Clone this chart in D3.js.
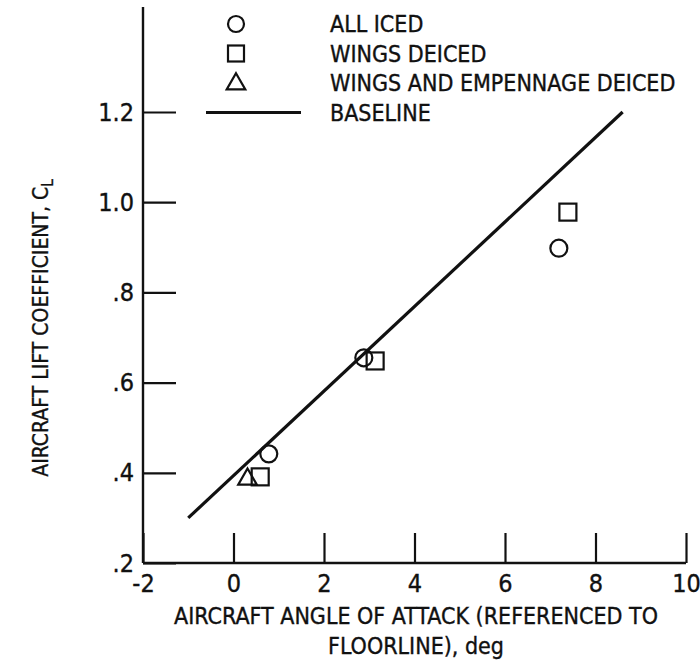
<!DOCTYPE html>
<html>
<head>
<meta charset="utf-8">
<script src="https://cdn.jsdelivr.net/npm/d3@7"></script>
<style>
  body { margin: 0; background: #fff; }
  svg text { font-family: "DejaVu Sans Condensed", "Liberation Sans Narrow", "DejaVu Sans", sans-serif; font-stretch: condensed; fill: #111; stroke: #111; stroke-width: 0.35; }
  .axis path, .axis line { stroke: #111; stroke-width: 2.2; }
  .marker { fill: none; stroke: #111; stroke-width: 2.2; }
</style>
</head>
<body>
<div id="chart"></div>
<script>
// Data (angle of attack in deg, lift coefficient)
const allIced = [[0.78, 0.442], [2.88, 0.655], [7.19, 0.898]];
const wingsDeiced = [[0.59, 0.391], [3.13, 0.648], [7.39, 0.978]];
const wingsEmpDeiced = [[0.31, 0.388]];
const baseline = [[-1.0, 0.30], [8.6, 1.20]];

const xTicks = [-2, 0, 2, 4, 6, 8, 10];
const xTickLabels = ['-2', '0', '2', '4', '6', '8', '10'];
const yTicks = [0.2, 0.4, 0.6, 0.8, 1.0, 1.2];
const yTickLabels = ['.2', '.4', '.6', '.8', '1.0', '1.2'];

const legendItems = ['ALL ICED', 'WINGS DEICED', 'WINGS AND EMPENNAGE DEICED', 'BASELINE'];

class LiftChart {
  constructor(_config) {
    this.config = {
      parentElement: _config.parentElement,
      svgWidth: _config.svgWidth || 700,
      svgHeight: _config.svgHeight || 665
    };
    this.initVis();
  }

  initVis() {
    const vis = this;

    vis.svg = d3.select(vis.config.parentElement).append('svg')
      .attr('width', vis.config.svgWidth)
      .attr('height', vis.config.svgHeight);

    // scales, pixel ranges fitted to the figure frame
    vis.xScale = d3.scaleLinear().domain([-2, 10]).range([143, 686]);
    vis.yScale = d3.scaleLinear().domain([0.2, 1.2]).range([563, 112]);

    vis.xAxis = d3.axisBottom(vis.xScale)
      .tickValues(xTicks)
      .tickFormat((d, i) => xTickLabels[i])
      .tickSizeInner(-30)
      .tickSizeOuter(0)
      .tickPadding(11);

    vis.yAxis = d3.axisLeft(vis.yScale)
      .tickValues(yTicks)
      .tickFormat((d, i) => yTickLabels[i])
      .tickSizeInner(-33)
      .tickSizeOuter(0)
      .tickPadding(9);

    vis.renderVis();
  }

  renderVis() {
    const vis = this;
    const x = vis.xScale, y = vis.yScale;

    const xAxisGroup = vis.svg.append('g')
      .attr('class', 'axis')
      .attr('transform', `translate(0, ${y(0.2)})`)
      .call(vis.xAxis);
    xAxisGroup.selectAll('.tick text').style('font-size', '25px');
    xAxisGroup.select('.domain').remove();

    const yAxisGroup = vis.svg.append('g')
      .attr('class', 'axis')
      .attr('transform', `translate(${x(-2)}, 0)`)
      .call(vis.yAxis);
    yAxisGroup.selectAll('.tick text').style('font-size', '25px');
    yAxisGroup.select('.domain').remove();

    // frame lines: y axis runs up past the last tick
    vis.svg.append('line')
      .attr('x1', x(-2)).attr('x2', x(-2))
      .attr('y1', y(0.2)).attr('y2', y(1.433))
      .attr('stroke', '#111').attr('stroke-width', 2.4);
    vis.svg.append('line')
      .attr('x1', x(-2)).attr('x2', x(10))
      .attr('y1', y(0.2)).attr('y2', y(0.2))
      .attr('stroke', '#111').attr('stroke-width', 2.4);

    // baseline
    const line = d3.line().x(d => x(d[0])).y(d => y(d[1]));
    vis.svg.append('path')
      .datum(baseline)
      .attr('d', line)
      .attr('fill', 'none')
      .attr('stroke', '#111')
      .attr('stroke-width', 3.2);

    // markers
    vis.svg.selectAll('.circ').data(allIced)
      .enter().append('circle')
      .attr('class', 'marker circ')
      .attr('cx', d => x(d[0]))
      .attr('cy', d => y(d[1]))
      .attr('r', 8.5);

    vis.svg.selectAll('.sq').data(wingsDeiced)
      .enter().append('rect')
      .attr('class', 'marker sq')
      .attr('x', d => x(d[0]) - 8.5)
      .attr('y', d => y(d[1]) - 8.5)
      .attr('width', 17)
      .attr('height', 17);

    const tri = d3.symbol().type(d3.symbolTriangle).size(150);
    vis.svg.selectAll('.tri').data(wingsEmpDeiced)
      .enter().append('path')
      .attr('class', 'marker tri')
      .attr('d', tri)
      .attr('transform', d => `translate(${x(d[0])}, ${y(d[1]) + 1})`);

    // legend
    const legend = vis.svg.append('g');
    const rowY = i => 24 + i * 29.5;
    legend.append('circle').attr('class', 'marker')
      .attr('cx', 236).attr('cy', rowY(0)).attr('r', 8);
    legend.append('rect').attr('class', 'marker')
      .attr('x', 228).attr('y', rowY(1) - 8).attr('width', 16).attr('height', 16);
    legend.append('path').attr('class', 'marker')
      .attr('d', tri).attr('transform', `translate(236, ${rowY(2) + 1})`);
    legend.append('line')
      .attr('x1', 206).attr('x2', 301)
      .attr('y1', rowY(3)).attr('y2', rowY(3))
      .attr('stroke', '#111').attr('stroke-width', 3.2);
    legend.selectAll('.legend-text').data(legendItems)
      .enter().append('text')
      .attr('class', 'legend-text')
      .attr('x', 330)
      .attr('y', (d, i) => rowY(i))
      .attr('dy', '0.36em')
      .style('font-size', '23px')
      .text(d => d);

    // axis titles
    const xTitle = vis.svg.append('text')
      .attr('text-anchor', 'middle')
      .style('font-size', '23px');
    xTitle.append('tspan').attr('x', 416).attr('y', 624)
      .text('AIRCRAFT ANGLE OF ATTACK (REFERENCED TO');
    xTitle.append('tspan').attr('x', 416).attr('y', 654)
      .text('FLOORLINE), deg');

    const yTitle = vis.svg.append('text')
      .attr('text-anchor', 'middle')
      .attr('transform', 'translate(48, 328) rotate(-90)')
      .style('font-size', '21px');
    yTitle.append('tspan').text('AIRCRAFT LIFT COEFFICIENT, C');
    yTitle.append('tspan').attr('dy', '0.3em').style('font-size', '15px').text('L');
  }
}

const chart = new LiftChart({ parentElement: '#chart' });
</script>
</body>
</html>
